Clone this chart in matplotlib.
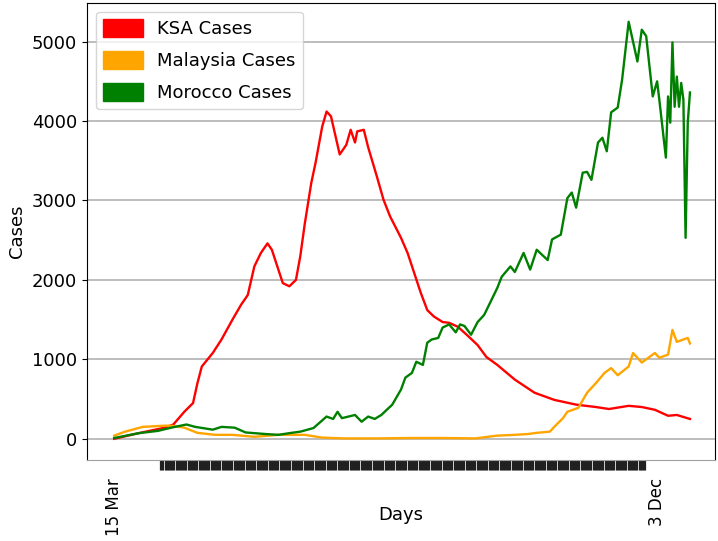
"""
Daily COVID-19 cases: KSA vs Malaysia vs Morocco (15 Mar - 3 Dec)
"""

import numpy as np
import matplotlib.pyplot as plt
import matplotlib.patches as mpatches


# =============================================================================
# Data (day index counted from 15 Mar)
# =============================================================================

ksa_day = [0, 11, 23, 27, 32, 36, 38, 40, 45, 49, 54, 58, 61, 64, 67, 70, 72, 77, 80,
           83, 85, 87, 90, 92, 95, 97, 99, 103, 106, 108, 110, 111, 114, 116, 120,
           123, 126, 131, 134, 137, 140, 143, 146, 150, 153, 157, 161, 166, 170,
           175, 183, 192, 201, 211, 220, 226, 235, 241, 247, 253, 257, 263]
ksa_cases = [0, 70, 140, 180, 340, 450, 700, 910, 1080, 1250, 1500, 1690, 1810, 2170,
             2340, 2460, 2380, 1960, 1920, 2000, 2300, 2700, 3220, 3480, 3930, 4120,
             4060, 3580, 3700, 3890, 3730, 3870, 3890, 3670, 3300, 3010, 2800, 2530,
             2340, 2090, 1840, 1620, 1540, 1470, 1460, 1410, 1310, 1180, 1030, 930,
             745, 580, 490, 430, 400, 375, 415, 400, 365, 290, 300, 250]

mal_day = [0, 5, 13, 23, 26, 32, 38, 46, 54, 64, 75, 81, 87, 95, 105, 120, 135, 150,
           165, 175, 183, 189, 193, 199, 201, 205, 207, 212, 216, 220, 224, 227, 230,
           235, 237, 241, 247, 249, 253, 255, 257, 262, 263]
mal_cases = [40, 90, 150, 165, 165, 140, 75, 50, 50, 25, 50, 50, 50, 15, 5, 5, 10, 10,
             5, 40, 50, 60, 75, 90, 150, 260, 340, 390, 580, 700, 830, 890, 800, 910,
             1080, 960, 1080, 1020, 1060, 1370, 1220, 1270, 1200]

mor_day = [0, 11, 20, 26, 33, 37, 45, 49, 55, 60, 69, 75, 81, 85, 91, 97, 100, 102,
           104, 110, 113, 116, 119, 122, 127, 131, 133, 136, 138, 141, 143, 145, 148,
           150, 153, 156, 158, 160, 163, 166, 169, 172, 175, 177, 181, 183, 187, 190,
           193, 198, 200, 204, 207, 209, 211, 214, 216, 218, 221, 223, 225, 227, 230,
           232, 235, 239, 241, 243, 246, 248, 249, 252, 253, 254, 255, 256, 257, 258,
           259, 260, 261, 262, 263]
mor_cases = [10, 70, 100, 140, 180, 150, 115, 150, 140, 80, 60, 50, 75, 90, 135, 280,
             250, 340, 260, 300, 215, 280, 250, 300, 430, 620, 770, 830, 970, 930, 1210,
             1250, 1270, 1400, 1440, 1340, 1440, 1420, 1310, 1470, 1560, 1730, 1900,
             2040, 2170, 2100, 2340, 2130, 2380, 2250, 2510, 2570, 3030, 3100, 2910,
             3350, 3360, 3260, 3730, 3790, 3620, 4110, 4170, 4520, 5250, 4750, 5150,
             5070, 4310, 4500, 4270, 3540, 4310, 3980, 4990, 4180, 4560, 4180, 4480,
             4270, 2530, 3980, 4360]

tick_days = [0, 248]
tick_labels = ["15 Mar", "3 Dec"]
y_ticks = [0, 1000, 2000, 3000, 4000, 5000]


# =============================================================================
# Plot
# =============================================================================

fig = plt.figure(figsize=(7.18, 5.41), dpi=100)
ax = fig.add_axes([0.121, 0.150, 0.875, 0.845])

ax.plot(ksa_day, ksa_cases, color="red", linewidth=1.7)
ax.plot(mal_day, mal_cases, color="orange", linewidth=1.7)
ax.plot(mor_day, mor_cases, color="green", linewidth=1.7)

ax.set_xlim(-12.5, 274.5)
ax.set_ylim(-265, 5490)

# x axis: two labelled dates plus a dense run of daily ticks
ax.set_xticks(tick_days)
ax.set_xticklabels(tick_labels, rotation=90, fontsize=12)
ax.set_xticks(np.arange(21, 243, 0.5), minor=True)
ax.tick_params(axis="x", which="major", length=0, pad=13)
ax.tick_params(axis="x", which="minor", length=7, width=0.9, color="#202020")

ax.set_yticks(y_ticks)
ax.tick_params(axis="y", labelsize=13)

ax.set_xlabel("Days", fontsize=13)
ax.xaxis.set_label_coords(0.5, -0.10)
ax.set_ylabel("Cases", fontsize=13)

ax.yaxis.grid(True, color="#b8b8b8", linewidth=1.3)
ax.set_axisbelow(True)
ax.spines["bottom"].set_color("#a0a0a0")

handles = [
    mpatches.Patch(color="red", label="KSA Cases"),
    mpatches.Patch(color="orange", label="Malaysia Cases"),
    mpatches.Patch(color="green", label="Morocco Cases"),
]
ax.legend(handles=handles, loc="upper left", fontsize=13,
          handlelength=2.2, handleheight=1.15, labelspacing=0.72)

plt.savefig("out.png", dpi=100)
plt.close()
